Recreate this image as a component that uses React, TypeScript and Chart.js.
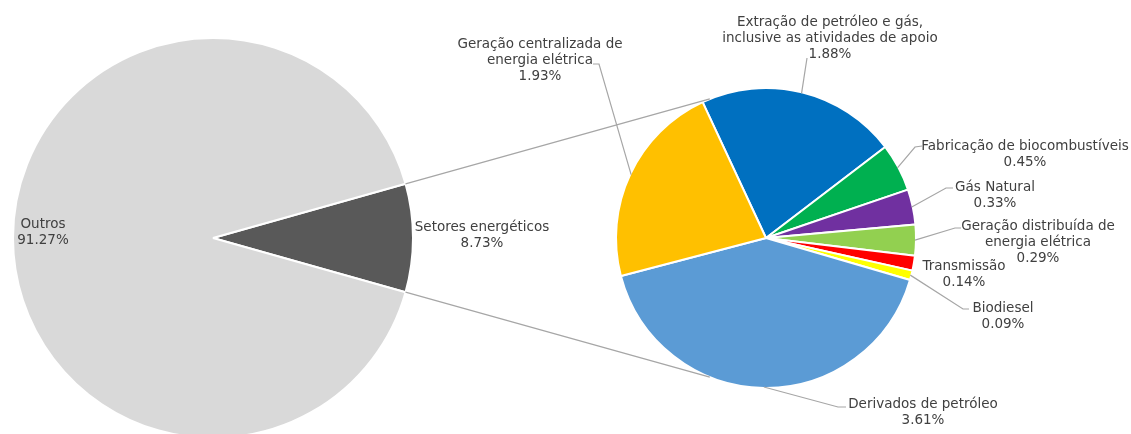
import React, { useEffect, useRef } from 'react';
import { Chart, registerables } from 'chart.js';

Chart.register(...registerables);

// ---- Data ----
const mainLabels = ['Setores energéticos', 'Outros'];
const mainValues = [8.73, 91.27];
const mainColors = ['#595959', '#d9d9d9'];

const subLabels = [
  'Extração de petróleo e gás, inclusive as atividades de apoio',
  'Fabricação de biocombustíveis',
  'Gás Natural',
  'Geração distribuída de energia elétrica',
  'Transmissão',
  'Biodiesel',
  'Derivados de petróleo',
  'Geração centralizada de energia elétrica',
];
const subValues = [1.88, 0.45, 0.33, 0.29, 0.14, 0.09, 3.61, 1.93];
const subColors = ['#0070c0', '#00b050', '#7030a0', '#92d050', '#ff0000', '#ffff00', '#5b9bd5', '#ffc000'];

const mainLabelLines = [['Setores energéticos'], ['Outros']];
const subLabelLines = [
  ['Extração de petróleo e gás,', 'inclusive as atividades de apoio'],
  ['Fabricação de biocombustíveis'],
  ['Gás Natural'],
  ['Geração distribuída de', 'energia elétrica'],
  ['Transmissão'],
  ['Biodiesel'],
  ['Derivados de petróleo'],
  ['Geração centralizada de', 'energia elétrica'],
];

// ---- Layout (label placement, leader elbows) ----
const mainLabelPos = [
  { x: 482, y: 227 },
  { x: 43, y: 224 },
];
const subLabelPos = [
  { x: 830, y: 22, leader: [[807, 58]] },
  { x: 1025, y: 146, leader: [[922, 146], [915, 147]] },
  { x: 995, y: 187, leader: [[953, 188], [946, 188]] },
  { x: 1038, y: 226, leader: [[961, 228], [955, 228]] },
  { x: 964, y: 266, leader: [] as number[][] },
  { x: 1003, y: 308, leader: [[969, 309], [963, 309]] },
  { x: 923, y: 404, leader: [[846, 407], [838, 407]] },
  { x: 540, y: 44, leader: [[593, 64], [599, 64]] },
];

const W = 1131;
const H = 480;
const FONT = '13.5px "DejaVu Sans", Verdana, sans-serif';
const TEXT_COLOR = '#404040';
const LINE_COLOR = '#a6a6a6';
const LINE_H = 16;

function drawLabel(ctx: CanvasRenderingContext2D, lines: string[], value: number, x: number, y: number) {
  ctx.save();
  ctx.font = FONT;
  ctx.fillStyle = TEXT_COLOR;
  ctx.textAlign = 'center';
  ctx.textBaseline = 'middle';
  const all = [...lines, value.toFixed(2) + '%'];
  all.forEach((t, i) => ctx.fillText(t, x, y + i * LINE_H));
  ctx.restore();
}

export default function App() {
  const leftRef = useRef<HTMLCanvasElement>(null);
  const rightRef = useRef<HTMLCanvasElement>(null);

  useEffect(() => {
    if (!leftRef.current || !rightRef.current) return;

    const left = new Chart(leftRef.current, {
      type: 'pie',
      data: {
        labels: mainLabels,
        datasets: [
          {
            data: mainValues,
            backgroundColor: mainColors,
            borderColor: '#ffffff',
            borderWidth: 2,
            hoverOffset: 0,
          },
        ],
      },
      options: {
        responsive: false,
        animation: false,
        events: [],
        rotation: 90 - (mainValues[0] / 100) * 180,
        layout: { padding: { left: 12, right: W - 414, top: 37, bottom: H - 439 } },
        plugins: { legend: { display: false }, tooltip: { enabled: false } },
      },
    });

    const overlay = {
      id: 'overlay',
      afterDraw(chart: any) {
        const ctx: CanvasRenderingContext2D = chart.ctx;
        const lMeta = left.getDatasetMeta(0);
        const rMeta = chart.getDatasetMeta(0);
        const la: any = lMeta.data[0];
        const ra: any = rMeta.data[0];
        const lr = la.outerRadius;
        const rr = ra.outerRadius;

        // connector lines
        ctx.save();
        ctx.strokeStyle = LINE_COLOR;
        ctx.lineWidth = 1.2;
        const upA = (-112 * Math.PI) / 180;
        const dnA = (112 * Math.PI) / 180;
        ctx.beginPath();
        ctx.moveTo(la.x + lr * Math.cos(la.startAngle), la.y + lr * Math.sin(la.startAngle));
        ctx.lineTo(ra.x + rr * Math.cos(upA), ra.y + rr * Math.sin(upA));
        ctx.moveTo(la.x + lr * Math.cos(la.endAngle), la.y + lr * Math.sin(la.endAngle));
        ctx.lineTo(ra.x + rr * Math.cos(dnA), ra.y + rr * Math.sin(dnA));
        ctx.stroke();

        // leader lines
        rMeta.data.forEach((arc: any, i: number) => {
          const pos = subLabelPos[i];
          if (!pos.leader.length) return;
          const mid = (arc.startAngle + arc.endAngle) / 2;
          ctx.beginPath();
          ctx.moveTo(pos.leader[0][0], pos.leader[0][1]);
          for (let k = 1; k < pos.leader.length; k++) ctx.lineTo(pos.leader[k][0], pos.leader[k][1]);
          ctx.lineTo(arc.x + (rr - 1) * Math.cos(mid), arc.y + (rr - 1) * Math.sin(mid));
          ctx.stroke();
        });
        ctx.restore();

        // labels
        mainValues.forEach((v, i) => drawLabel(ctx, mainLabelLines[i], v, mainLabelPos[i].x, mainLabelPos[i].y));
        subValues.forEach((v, i) => drawLabel(ctx, subLabelLines[i], v, subLabelPos[i].x, subLabelPos[i].y));
      },
    };

    const right = new Chart(rightRef.current, {
      type: 'pie',
      data: {
        labels: subLabels,
        datasets: [
          {
            data: subValues,
            backgroundColor: subColors,
            borderColor: '#ffffff',
            borderWidth: 2,
            hoverOffset: 0,
          },
        ],
      },
      options: {
        responsive: false,
        animation: false,
        events: [],
        rotation: -25,
        layout: { padding: { left: 615, right: W - 917, top: 87, bottom: H - 389 } },
        plugins: { legend: { display: false }, tooltip: { enabled: false } },
      },
      plugins: [overlay],
    });

    return () => {
      right.destroy();
      left.destroy();
    };
  }, []);

  const canvasStyle: React.CSSProperties = { position: 'absolute', left: 0, top: 0, width: W, height: H };
  return (
    <div
      style={{
        position: 'fixed',
        left: 0,
        top: 0,
        width: W,
        height: 434,
        overflow: 'hidden',
        background: '#ffffff',
      }}
    >
      <canvas ref={leftRef} width={W} height={H} style={canvasStyle} />
      <canvas ref={rightRef} width={W} height={H} style={canvasStyle} />
    </div>
  );
}
